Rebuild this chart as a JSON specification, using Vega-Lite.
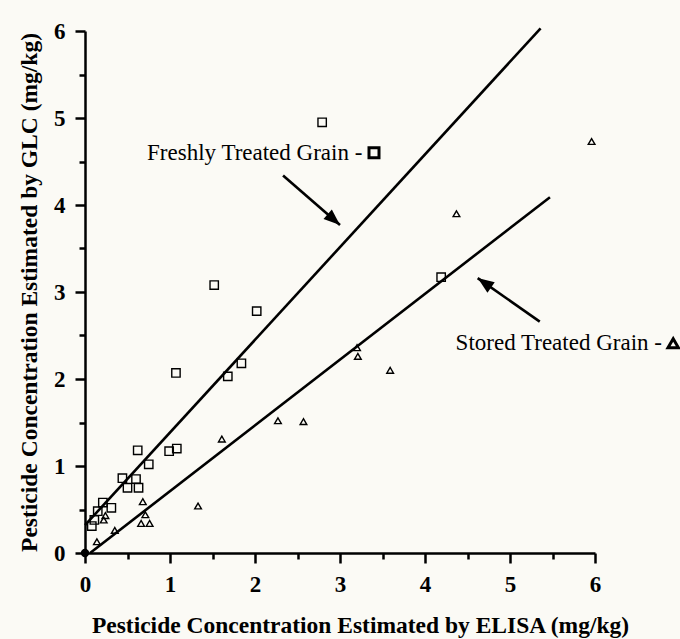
{
  "$schema": "https://vega.github.io/schema/vega-lite/v6.json",
  "width": 510,
  "height": 522,
  "autosize": {"type": "none"},
  "padding": {"left": 85, "top": 31, "right": 85, "bottom": 86},
  "background": "#fbfaf5",
  "config": {
    "view": {"stroke": null},
    "font": "Liberation Serif",
    "axis": {
      "ticks": true,
      "tickColor": "black",
      "tickSize": 10,
      "tickWidth": 2.5,
      "domainColor": "black",
      "domainWidth": 2.5,
      "grid": false,
      "labelFont": "Liberation Serif",
      "labelFontWeight": "bold",
      "labelFontSize": 23,
      "labelColor": "black",
      "labelFlush": false,
      "labelOverlap": false,
      "titleFont": "Liberation Serif",
      "titleFontWeight": "bold",
      "titleFontSize": 23.5,
      "titleColor": "black"
    },
    "style": {
      "minor-ticks": {"tickSize": 6, "domain": false, "labels": false}
    }
  },
  "datasets": {
    "samples": [
      {"sample": "Freshly Treated Grain", "elisa": 0.08, "glc": 0.31},
      {"sample": "Freshly Treated Grain", "elisa": 0.11, "glc": 0.38},
      {"sample": "Freshly Treated Grain", "elisa": 0.15, "glc": 0.48},
      {"sample": "Freshly Treated Grain", "elisa": 0.21, "glc": 0.58},
      {"sample": "Freshly Treated Grain", "elisa": 0.31, "glc": 0.52},
      {"sample": "Freshly Treated Grain", "elisa": 0.44, "glc": 0.86},
      {"sample": "Freshly Treated Grain", "elisa": 0.5, "glc": 0.75},
      {"sample": "Freshly Treated Grain", "elisa": 0.6, "glc": 0.85},
      {"sample": "Freshly Treated Grain", "elisa": 0.63, "glc": 0.75},
      {"sample": "Freshly Treated Grain", "elisa": 0.62, "glc": 1.18},
      {"sample": "Freshly Treated Grain", "elisa": 0.75, "glc": 1.02},
      {"sample": "Freshly Treated Grain", "elisa": 0.99, "glc": 1.17},
      {"sample": "Freshly Treated Grain", "elisa": 1.08, "glc": 1.2},
      {"sample": "Freshly Treated Grain", "elisa": 1.07, "glc": 2.07},
      {"sample": "Freshly Treated Grain", "elisa": 1.52, "glc": 3.08},
      {"sample": "Freshly Treated Grain", "elisa": 1.68, "glc": 2.03},
      {"sample": "Freshly Treated Grain", "elisa": 1.84, "glc": 2.18},
      {"sample": "Freshly Treated Grain", "elisa": 2.02, "glc": 2.78},
      {"sample": "Freshly Treated Grain", "elisa": 2.79, "glc": 4.95},
      {"sample": "Freshly Treated Grain", "elisa": 4.19, "glc": 3.17},
      {"sample": "Stored Treated Grain", "elisa": 0.14, "glc": 0.13},
      {"sample": "Stored Treated Grain", "elisa": 0.22, "glc": 0.38},
      {"sample": "Stored Treated Grain", "elisa": 0.24, "glc": 0.43},
      {"sample": "Stored Treated Grain", "elisa": 0.35, "glc": 0.26},
      {"sample": "Stored Treated Grain", "elisa": 0.66, "glc": 0.34},
      {"sample": "Stored Treated Grain", "elisa": 0.76, "glc": 0.34},
      {"sample": "Stored Treated Grain", "elisa": 0.71, "glc": 0.44},
      {"sample": "Stored Treated Grain", "elisa": 0.68, "glc": 0.59},
      {"sample": "Stored Treated Grain", "elisa": 1.33, "glc": 0.54},
      {"sample": "Stored Treated Grain", "elisa": 1.61, "glc": 1.31},
      {"sample": "Stored Treated Grain", "elisa": 2.27, "glc": 1.52},
      {"sample": "Stored Treated Grain", "elisa": 2.57, "glc": 1.51},
      {"sample": "Stored Treated Grain", "elisa": 3.2, "glc": 2.36},
      {"sample": "Stored Treated Grain", "elisa": 3.21, "glc": 2.26},
      {"sample": "Stored Treated Grain", "elisa": 3.59, "glc": 2.1},
      {"sample": "Stored Treated Grain", "elisa": 4.37, "glc": 3.9},
      {"sample": "Stored Treated Grain", "elisa": 5.96, "glc": 4.73}
    ],
    "fits": [
      {"sample": "Freshly Treated Grain", "elisa": 0, "glc": 0.32},
      {"sample": "Freshly Treated Grain", "elisa": 5.36, "glc": 6.03},
      {"sample": "Stored Treated Grain", "elisa": 0.06, "glc": 0},
      {"sample": "Stored Treated Grain", "elisa": 5.47, "glc": 4.09}
    ],
    "origin": [{"elisa": 0, "glc": 0}],
    "notes": [
      {"label": "Freshly Treated Grain -", "elisa": 0.73, "glc": 4.6},
      {"label": "Stored Treated Grain -", "elisa": 4.36, "glc": 2.41}
    ],
    "arrowFresh": [{"elisa": 2.33, "glc": 4.34, "elisa2": 3.0, "glc2": 3.77}],
    "arrowStored": [{"elisa": 5.35, "glc": 2.66, "elisa2": 4.62, "glc2": 3.16}],
    "keyFresh": [{"elisa": 3.4, "glc": 4.6}],
    "keyStored": [{"elisa": 6.92, "glc": 2.41}]
  },
  "layer": [
    {
      "encoding": {
        "x": {
          "field": "elisa",
          "type": "quantitative",
          "scale": {"domain": [0, 6], "nice": false},
          "axis": {
            "orient": "bottom",
            "values": [0, 1, 2, 3, 4, 5, 6],
            "format": "d",
            "labelPadding": 10,
            "title": "Pesticide Concentration Estimated by ELISA (mg/kg)",
            "titleX": 275,
            "titleAlign": "center",
            "titlePadding": 17
          }
        },
        "y": {
          "field": "glc",
          "type": "quantitative",
          "scale": {"domain": [0, 6], "nice": false},
          "axis": {
            "orient": "left",
            "values": [0, 1, 2, 3, 4, 5, 6],
            "format": "d",
            "labelPadding": 10,
            "title": "Pesticide Concentration Estimated by GLC (mg/kg)",
            "titlePadding": 12
          }
        }
      },
      "layer": [
        {
          "data": {"name": "fits"},
          "mark": {"type": "line", "color": "black", "strokeWidth": 2.6},
          "encoding": {"detail": {"field": "sample"}}
        },
        {
          "data": {"name": "samples"},
          "mark": {"type": "point", "filled": false, "color": "black", "strokeWidth": 1.4, "opacity": 1},
          "encoding": {
            "shape": {
              "field": "sample",
              "type": "nominal",
              "scale": {"domain": ["Freshly Treated Grain", "Stored Treated Grain"], "range": ["square", "triangle-up"]},
              "legend": null
            },
            "size": {
              "field": "sample",
              "type": "nominal",
              "scale": {"domain": ["Freshly Treated Grain", "Stored Treated Grain"], "range": [70, 45]},
              "legend": null
            }
          }
        },
        {
          "data": {"name": "notes"},
          "mark": {"type": "text", "align": "left", "baseline": "middle", "font": "Liberation Serif", "fontSize": 23, "color": "black"},
          "encoding": {"text": {"field": "label"}}
        },
        {
          "data": {"name": "keyFresh"},
          "mark": {"type": "point", "shape": "square", "filled": false, "color": "black", "strokeWidth": 3, "size": 100, "opacity": 1},
          "encoding": {}
        },
        {
          "data": {"name": "keyStored"},
          "mark": {"type": "point", "shape": "triangle-up", "filled": false, "color": "black", "strokeWidth": 3, "size": 110, "opacity": 1},
          "encoding": {}
        },
        {
          "data": {"name": "arrowFresh"},
          "mark": {"type": "rule", "color": "black", "strokeWidth": 2.6},
          "encoding": {"x2": {"field": "elisa2"}, "y2": {"field": "glc2"}}
        },
        {
          "data": {"name": "arrowFresh"},
          "mark": {"type": "point", "shape": "M0,0L0.7,1.8L-0.7,1.8Z", "filled": true, "color": "black", "size": 330, "angle": 131, "opacity": 1},
          "encoding": {"x": {"field": "elisa2", "type": "quantitative"}, "y": {"field": "glc2", "type": "quantitative"}}
        },
        {
          "data": {"name": "arrowStored"},
          "mark": {"type": "rule", "color": "black", "strokeWidth": 2.6},
          "encoding": {"x2": {"field": "elisa2"}, "y2": {"field": "glc2"}}
        },
        {
          "data": {"name": "arrowStored"},
          "mark": {"type": "point", "shape": "M0,0L0.7,1.8L-0.7,1.8Z", "filled": true, "color": "black", "size": 330, "angle": 305, "opacity": 1},
          "encoding": {"x": {"field": "elisa2", "type": "quantitative"}, "y": {"field": "glc2", "type": "quantitative"}}
        }
      ]
    },
    {
      "data": {"name": "origin"},
      "mark": {"type": "circle", "color": "black", "size": 70, "opacity": 1},
      "encoding": {
        "x": {
          "field": "elisa",
          "type": "quantitative",
          "axis": {
            "orient": "bottom",
            "style": "minor-ticks",
            "values": [0.5, 1.5, 2.5, 3.5, 4.5, 5.5],
            "title": null
          }
        },
        "y": {
          "field": "glc",
          "type": "quantitative",
          "axis": {
            "orient": "left",
            "style": "minor-ticks",
            "values": [0.5, 1.5, 2.5, 3.5, 4.5, 5.5],
            "title": null
          }
        }
      }
    }
  ],
  "resolve": {"axis": {"x": "independent", "y": "independent"}}
}
